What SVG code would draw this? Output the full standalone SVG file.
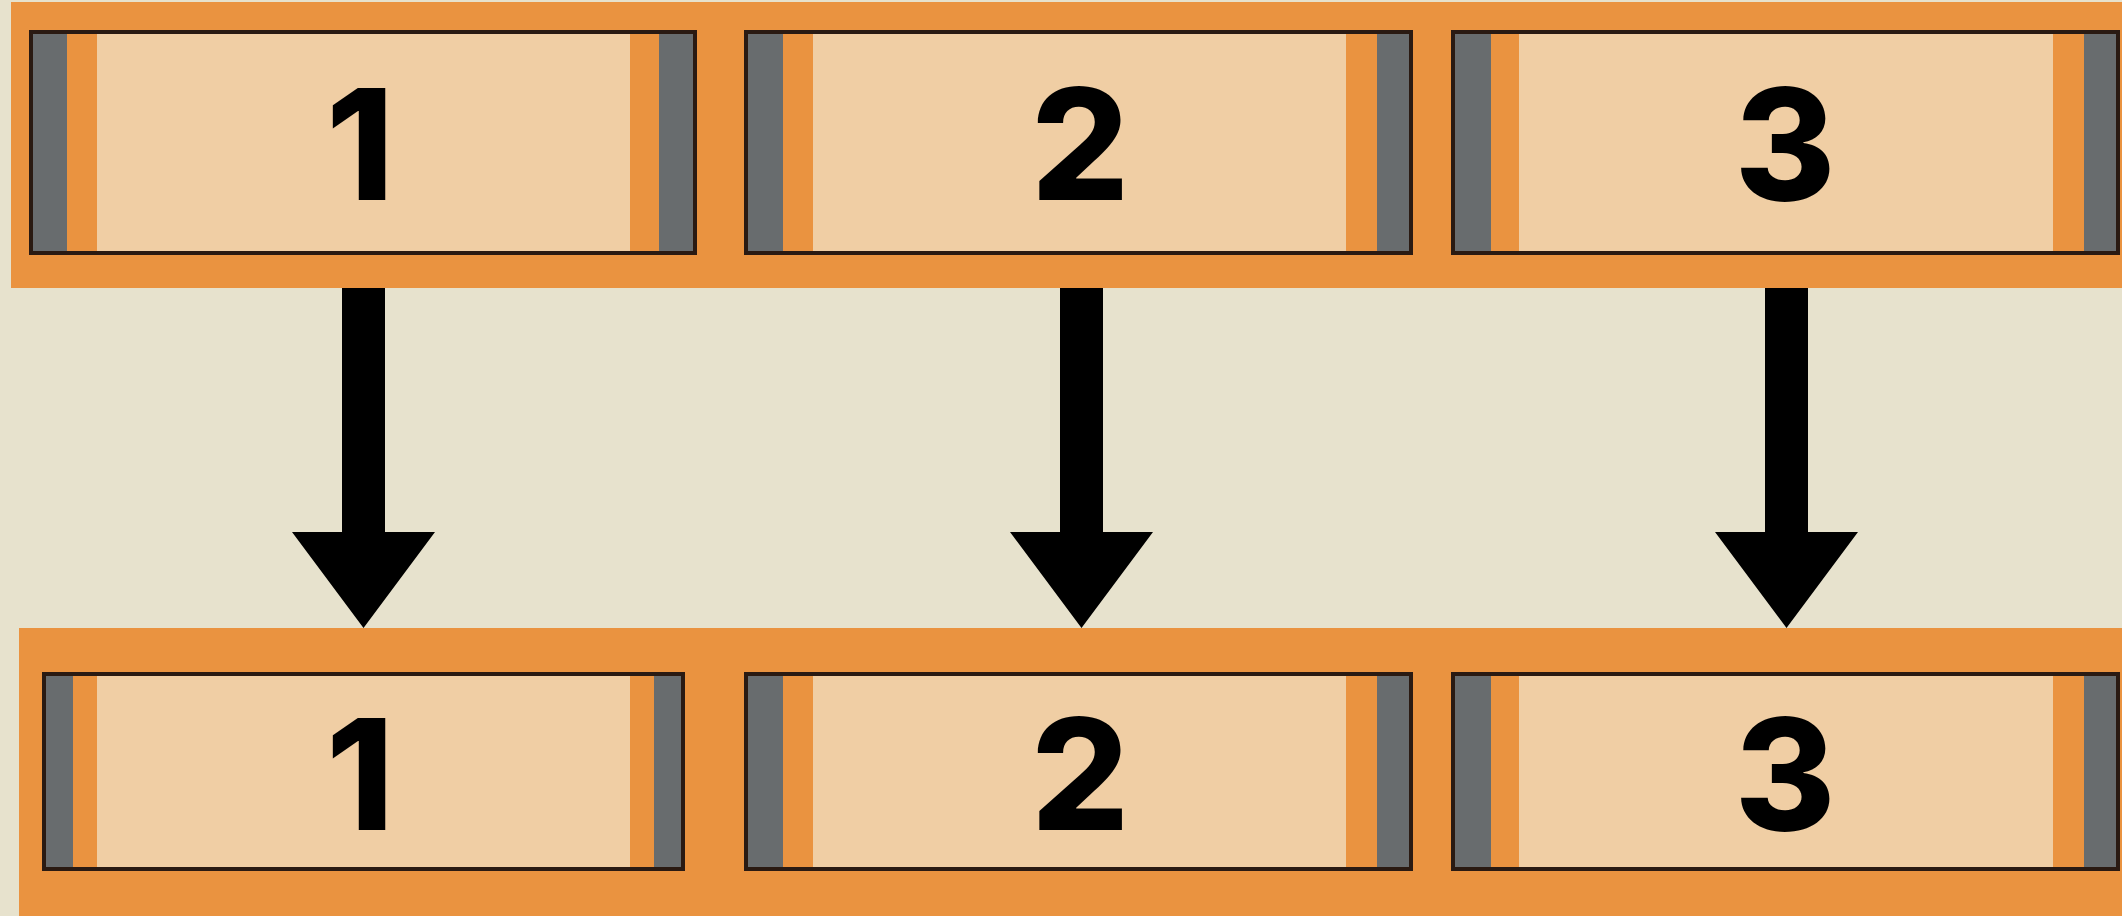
<svg xmlns="http://www.w3.org/2000/svg" width="2122" height="916" viewBox="0 0 2122 916">
<defs>
<style>
.band{fill:#EA9340}
.cell{fill:#F0CEA4;stroke:#2A1A12;stroke-width:4}
.gray{fill:#686C6E}
.strip{fill:#EA9340}
.num{font-family:Inter,"Open Sans",sans-serif;font-weight:800;font-size:154px;fill:#000;text-anchor:middle}
.arrow{fill:#000}
</style>
</defs>
<rect x="0" y="0" width="2122" height="916" fill="#E7E2CD"/>
<g id="top-band"><rect class="band" x="11" y="2" width="2111" height="286"/></g>
<g id="bottom-band"><rect class="band" x="19" y="628" width="2103" height="288"/></g>

<g id="top-1">
<rect class="cell" x="31" y="32" width="664" height="221"/>
<rect class="gray" x="33" y="34" width="34" height="217"/>
<rect class="strip" x="67" y="34" width="30" height="217"/>
<rect class="strip" x="630" y="34" width="29" height="217"/>
<rect class="gray" x="659" y="34" width="34" height="217"/>
<text class="num" x="360" y="200">1</text>
</g>
<g id="top-2">
<rect class="cell" x="746" y="32" width="665" height="221"/>
<rect class="gray" x="748" y="34" width="35" height="217"/>
<rect class="strip" x="783" y="34" width="30" height="217"/>
<rect class="strip" x="1346" y="34" width="31" height="217"/>
<rect class="gray" x="1377" y="34" width="32" height="217"/>
<text class="num" x="1080" y="200">2</text>
</g>
<g id="top-3">
<rect class="cell" x="1453" y="32" width="665" height="221"/>
<rect class="gray" x="1455" y="34" width="36" height="217"/>
<rect class="strip" x="1491" y="34" width="28" height="217"/>
<rect class="strip" x="2053" y="34" width="31" height="217"/>
<rect class="gray" x="2084" y="34" width="32" height="217"/>
<text class="num" x="1785" y="200">3</text>
</g>

<g id="bottom-1">
<rect class="cell" x="44" y="674" width="639" height="195"/>
<rect class="gray" x="46" y="676" width="27" height="191"/>
<rect class="strip" x="73" y="676" width="24" height="191"/>
<rect class="strip" x="630" y="676" width="24" height="191"/>
<rect class="gray" x="654" y="676" width="27" height="191"/>
<text class="num" x="360" y="830">1</text>
</g>
<g id="bottom-2">
<rect class="cell" x="746" y="674" width="665" height="195"/>
<rect class="gray" x="748" y="676" width="35" height="191"/>
<rect class="strip" x="783" y="676" width="30" height="191"/>
<rect class="strip" x="1346" y="676" width="31" height="191"/>
<rect class="gray" x="1377" y="676" width="32" height="191"/>
<text class="num" x="1080" y="830">2</text>
</g>
<g id="bottom-3">
<rect class="cell" x="1453" y="674" width="665" height="195"/>
<rect class="gray" x="1455" y="676" width="36" height="191"/>
<rect class="strip" x="1491" y="676" width="28" height="191"/>
<rect class="strip" x="2053" y="676" width="31" height="191"/>
<rect class="gray" x="2084" y="676" width="32" height="191"/>
<text class="num" x="1785" y="830">3</text>
</g>

<g id="connectors">
<polygon class="arrow" points="342,288 385,288 385,532 435,532 363.5,628 292,532 342,532"/>
<polygon class="arrow" points="1060,288 1103,288 1103,532 1153,532 1081.5,628 1010,532 1060,532"/>
<polygon class="arrow" points="1765,288 1808,288 1808,532 1858,532 1786.5,628 1715,532 1765,532"/>
</g>
</svg>
